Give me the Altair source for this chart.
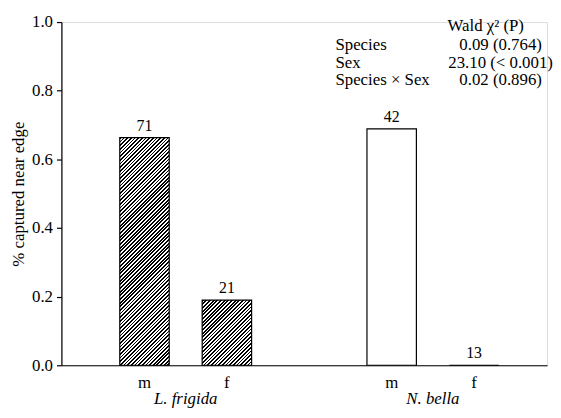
import altair as alt
import pandas as pd

# ---- data ----
species = ["L. frigida", "L. frigida", "N. bella", "N. bella"]
sex = ["m", "f", "m", "f"]
share = [0.663, 0.19, 0.689, 0.0]
counts = [71, 21, 42, 13]
groups = ["L. frigida", "N. bella"]
hatched_species = ["L. frigida"]
y_ticks = [0.0, 0.2, 0.4, 0.6, 0.8, 1.0]
stat_header = "Wald \u03c7\u00b2 (P)"
stat_terms = ["Species", "Sex", "Species \u00d7 Sex"]
stat_values = ["0.09 (0.764)", "23.10 (< 0.001)", "0.02 (0.896)"]

FONT = "Liberation Serif"
W, H = 491, 347
slots = ["L. frigida m", "L. frigida f", " ", "N. bella m", "N. bella f"]
P_IN = 0.4
STEP = 83.3
P_OUT = (W / STEP - (len(slots) - P_IN)) / 2
ALIGN = (84 - STEP * (1 - P_IN) / 2) / (W - STEP * (len(slots) - P_IN))
bw = STEP * (1 - P_IN)

df = pd.DataFrame({"species": species, "sex": sex, "share": share, "n": counts})
df["key"] = df["species"] + " " + df["sex"]


def hatch(h, w, period=3.7, frac=0.5):
    """Diagonal '/' stripes as a hard-stop linear gradient (bounding-box units)."""
    r = h / w
    denom = w * (1 + r * r)
    stops = []
    k = 0
    while k * period < (w + h) + period:
        t0 = k * period / denom
        t1 = (k * period + frac * period) / denom
        t2 = (k + 1) * period / denom
        for t, c in ((t0, "black"), (t1, "black"), (t1, "white"), (t2, "white")):
            stops.append({"offset": min(max(t, 0.0), 1.0), "color": c})
        k += 1
    return {"gradient": "linear", "x1": 0, "y1": 0, "x2": 1, "y2": r, "stops": stops}


conds = []
for k, sp, v in zip(df["key"], df["species"], df["share"]):
    if sp in hatched_species and v > 0:
        conds.append({"test": f"datum.key === '{k}'", "value": hatch(v * H, bw)})
fill_enc = {"condition": conds, "value": "white"}

x_enc = alt.X(
    "key:N",
    scale=alt.Scale(domain=slots, paddingInner=P_IN, paddingOuter=P_OUT, align=ALIGN),
    axis=alt.Axis(
        title=None, ticks=False, labelAngle=0, labelExpr="slice(datum.label, -1)",
        labelPadding=9, labelFontSize=17, labelFont=FONT, labelColor="black",
        domainColor="black", domainWidth=1.2,
    ),
)
y_enc = alt.Y(
    "share:Q",
    scale=alt.Scale(domain=[0, 1]),
    axis=alt.Axis(
        title="% captured near edge", values=y_ticks, format=".1f", grid=False,
        tickSize=5, tickColor="black", tickWidth=1.2, domainColor="black", domainWidth=1.2,
        labelFont=FONT, labelFontSize=17, labelColor="black", labelPadding=4,
        titleFont=FONT, titleFontSize=17, titleFontWeight="normal", titleColor="black",
        titlePadding=4,
    ),
)

base = alt.Chart(df)
bars = base.mark_bar(stroke="black", strokeWidth=1.2).encode(x=x_enc, y=y_enc, fill=fill_enc)
nlab = base.mark_text(font=FONT, fontSize=16, color="black", baseline="alphabetic", dy=-7).encode(
    x="key:N", y="share:Q", text="n:Q"
)

gdf = pd.DataFrame({"species": groups})
glab = alt.Chart(gdf).transform_calculate(key="datum.species + ' m'").mark_text(
    font=FONT, fontSize=17, fontStyle="italic", color="black", baseline="alphabetic",
    dx=STEP / 2, dy=39,
).encode(x="key:N", y=alt.value(H), text="species:N")

layers = [bars, nlab, glab]
tx_left, tx_val, tx_head = 277, 444, 429
row_y = [28, 46, 64]
hdr = alt.Chart(pd.DataFrame({"t": [stat_header]})).mark_text(
    font=FONT, fontSize=17, color="black", align="center", baseline="alphabetic",
    x=tx_head, y=9,
).encode(text="t:N")
layers.append(hdr)
for term, val, yy in zip(stat_terms, stat_values, row_y):
    rdf = pd.DataFrame({"term": [term], "val": [val]})
    layers.append(alt.Chart(rdf).mark_text(
        font=FONT, fontSize=17, color="black", align="left", baseline="alphabetic", x=tx_left, y=yy,
    ).encode(text="term:N"))
    layers.append(alt.Chart(rdf).mark_text(
        font=FONT, fontSize=17, color="black", align="center", baseline="alphabetic", x=tx_val, y=yy,
    ).encode(text="val:N"))

chart = alt.layer(*layers).properties(
    width=W, height=H, padding={"left": 1, "top": 3, "right": 0, "bottom": 0}
).configure_view(stroke=None).configure(background="white")

chart.save("out.html", embed_options={"renderer": "svg", "actions": False})
